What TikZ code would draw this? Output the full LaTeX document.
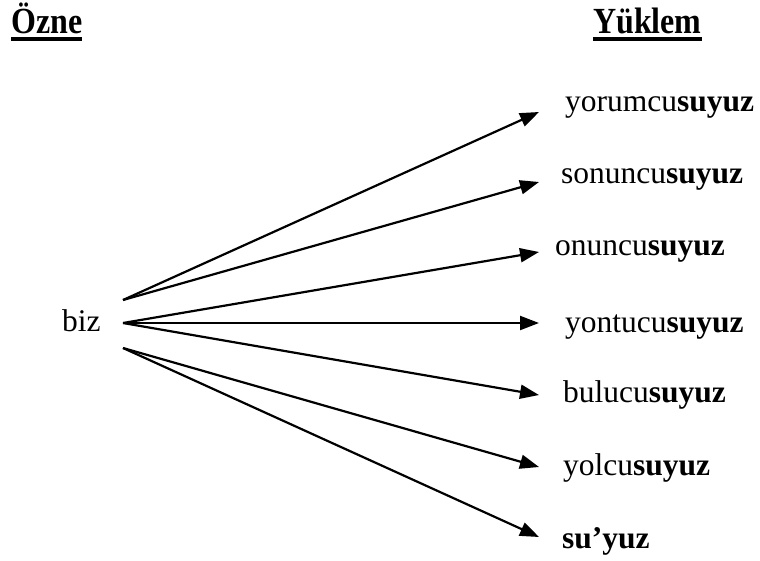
\documentclass[tikz,border=0pt]{standalone}
\usepackage{fontspec}
\setmainfont{Liberation Serif}
\usetikzlibrary{arrows.meta}
\begin{document}
\begin{tikzpicture}[x=1pt,y=-1pt,
  lbl/.style={anchor=base west,inner sep=0pt,font=\fontsize{31.5}{36}\selectfont},
  hdr/.style={anchor=base west,inner sep=0pt,font=\fontsize{32}{36}\selectfont\bfseries},
  arr/.style={line width=2.2pt,-{Triangle[length=19pt,width=14pt]}},
  uline/.style={line width=3.5pt}]
\useasboundingbox (0,0) rectangle (760,560);
% headers
\node[hdr] (ozne) at (11,33.5) {\scalebox{1}[1.15]{Özne}};
\node[hdr] (yuklem) at (593,33.5) {\scalebox{1}[1.15]{Yüklem}};
\draw[uline] ([yshift=-5.5pt]ozne.base west) -- ([yshift=-5.5pt]ozne.base east);
\draw[uline] ([yshift=-5.5pt]yuklem.base west) -- ([yshift=-5.5pt]yuklem.base east);
% subject
\node[lbl] (biz) at (62,331) {biz};
\coordinate (s1) at (123,300);
\coordinate (s2) at (123,323);
\coordinate (s3) at (123,348);
% predicates
\node[lbl] (p1) at (565,111) {yorumcu\textbf{suyuz}};
\node[lbl] (p2) at (561,183) {sonuncu\textbf{suyuz}};
\node[lbl] (p3) at (555,255) {onuncu\textbf{suyuz}};
\node[lbl] (p4) at (565,332) {yontucu\textbf{suyuz}};
\node[lbl] (p5) at (563,402) {bulucu\textbf{suyuz}};
\node[lbl] (p6) at (563,475) {yolcu\textbf{suyuz}};
\node[lbl] (p7) at (562,548) {\textbf{su’yuz}};
% tips
\coordinate (t1) at (539,112);
\coordinate (t2) at (539,182);
\coordinate (t3) at (539,252);
\coordinate (t4) at (539,323);
\coordinate (t5) at (539,395);
\coordinate (t6) at (539,467);
\coordinate (t7) at (539,537);
\draw[arr] (s1) -- (t1);
\draw[arr] (s1) -- (t2);
\draw[arr] (s2) -- (t3);
\draw[arr] (s2) -- (t4);
\draw[arr] (s2) -- (t5);
\draw[arr] (s3) -- (t6);
\draw[arr] (s3) -- (t7);
\end{tikzpicture}
\end{document}
